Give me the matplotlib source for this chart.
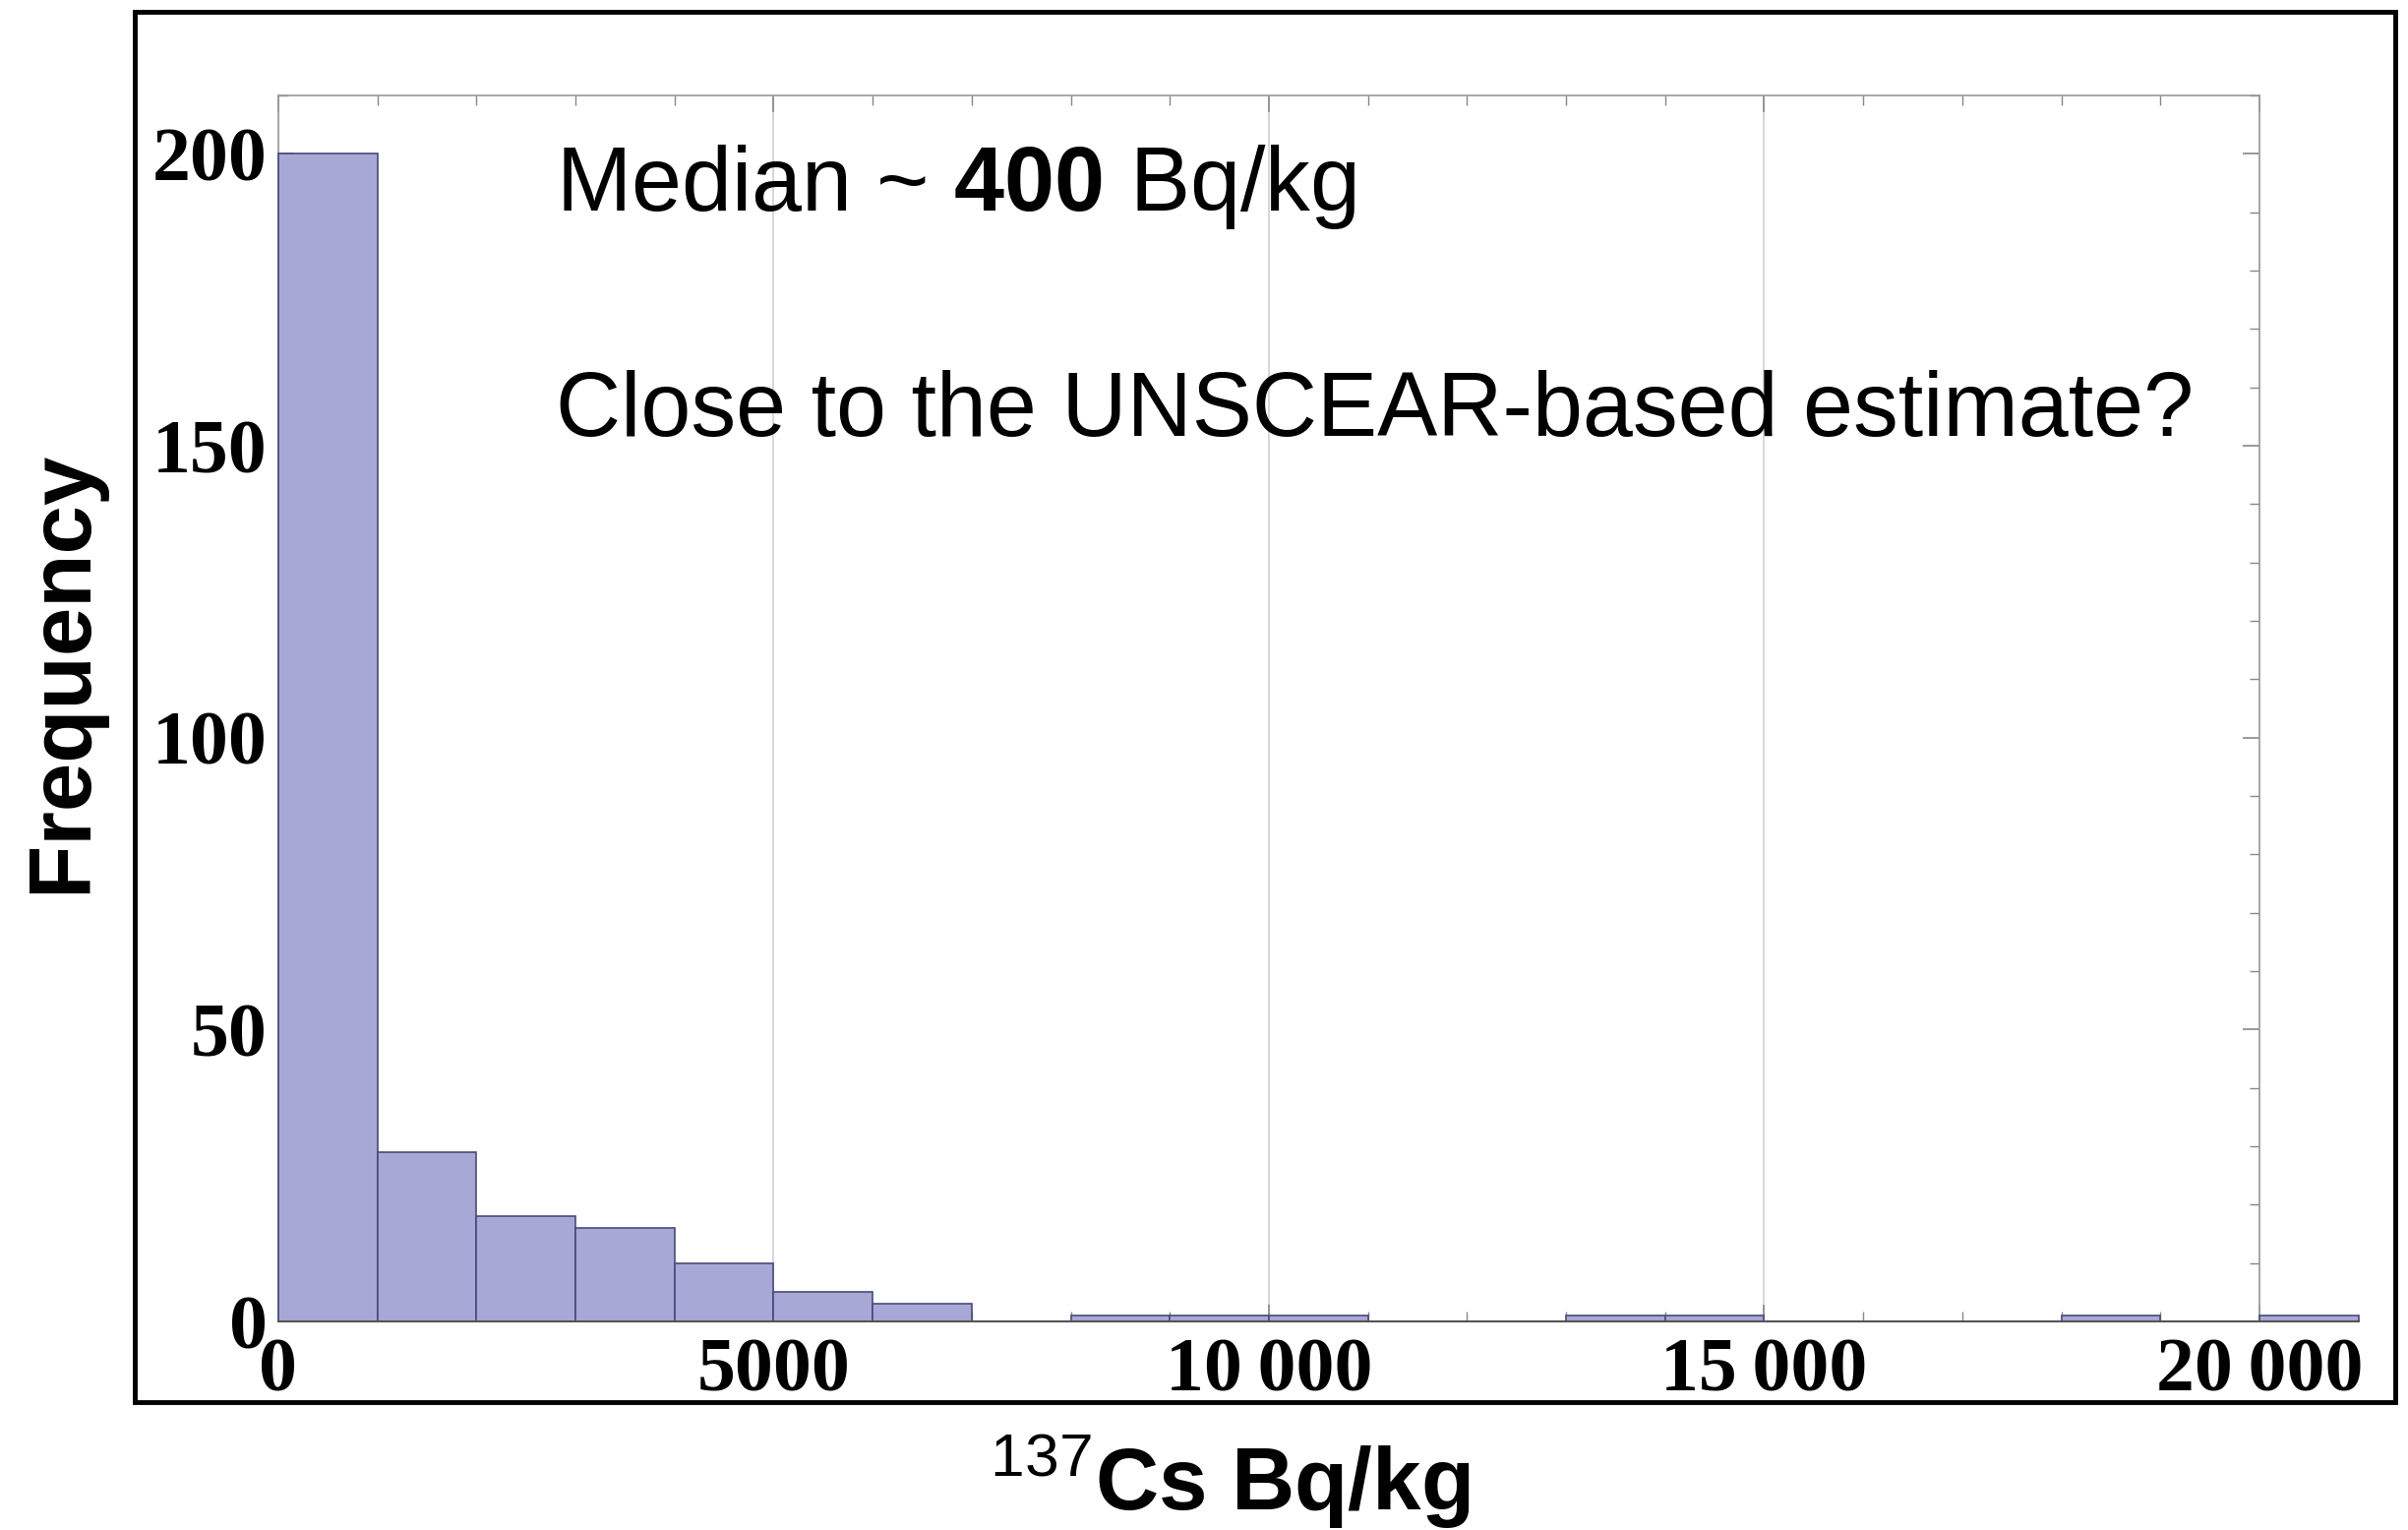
import numpy as np
import matplotlib.pyplot as plt
from matplotlib.patches import Rectangle

plt.rcParams['mathtext.fontset'] = 'custom'
plt.rcParams['mathtext.rm'] = 'Liberation Sans'
plt.rcParams['mathtext.bf'] = 'Liberation Sans:bold'

# histogram of 137Cs activity, bins of 1000 Bq/kg
bin_edges = [0, 1000, 2000, 3000, 4000, 5000, 6000, 7000, 8000, 9000, 10000,
             11000, 12000, 13000, 14000, 15000, 16000, 17000, 18000, 19000, 20000, 21000]
counts = [200, 29, 18, 16, 10, 5, 3, 0, 1, 1, 1, 0, 0, 1, 1, 0, 0, 0, 1, 0, 1]

xticks = [0, 5000, 10000, 15000, 20000]
xtick_labels = ['0', '5000', '10\u2009000', '15\u2009000', '20\u2009000']
yticks = [0, 50, 100, 150, 200]
ytick_labels = ['0', '50', '100', '150', '200']

fig = plt.figure(figsize=(24.48, 15.55), dpi=100)
ax = fig.add_axes([0.1156, 0.1363, 0.8227, 0.8013])

lefts = np.array(bin_edges[:-1])
widths = np.diff(bin_edges)
ax.bar(lefts, counts, width=widths, align='edge', color='#a8a8d6',
       edgecolor='#4a4a7a', linewidth=1.2, clip_on=False, zorder=3)
# baseline
ax.plot([0, 21000], [0, 0], color='#555555', lw=1.5, clip_on=False, zorder=4)

ax.set_xlim(0, 20000)
ax.set_ylim(0, 210)

tick_font = ['Liberation Serif', 'DejaVu Serif']
ax.set_xticks(xticks)
ax.set_xticklabels(xtick_labels, family=tick_font, fontweight='bold', fontsize=56)
ax.set_yticks(yticks)
ax.set_yticklabels(ytick_labels, family=tick_font, fontweight='bold', fontsize=56)
ax.set_xticks(np.arange(0, 20001, 1000), minor=True)
ax.set_yticks(np.arange(0, 211, 10), minor=True)
ax.tick_params(which='both', direction='in', top=True, right=True,
               color='#888888')
ax.tick_params(which='major', length=12, width=1.2)
ax.tick_params(axis='x', which='major', pad=12)
ax.tick_params(axis='y', which='major', pad=8)
ax.tick_params(which='minor', length=7, width=1.0)

ax.grid(axis='x', which='major', color='#cfcfcf', lw=1.2, zorder=0)
for s in ax.spines.values():
    s.set_color('#9a9a9a')
    s.set_linewidth(1.2)

ax.set_xlabel(r'$^{\mathrm{137}}$Cs Bq/kg', fontsize=64, fontweight='bold',
              family='Liberation Sans')
ax.xaxis.set_label_coords(0.48, -0.09)
ax.set_ylabel('Frequency', fontsize=64, fontweight='bold', family='Liberation Sans')
ax.yaxis.set_label_coords(-0.088, 0.53)

ax.text(0.14, 0.925, 'Median ~ $\\mathbf{400}$ Bq/kg', transform=ax.transAxes,
        fontsize=66, family='Liberation Sans', va='center')
ax.text(0.14, 0.742, 'Close to the UNSCEAR-based estimate?', transform=ax.transAxes,
        fontsize=66, family='Liberation Sans', va='center')

# outer frame
fig.patches.append(Rectangle((0.056, 0.0836), 0.9387, 0.9087, transform=fig.transFigure,
                             fill=False, edgecolor='black', linewidth=3.5))

fig.savefig('out.png', dpi=100, facecolor='white')
